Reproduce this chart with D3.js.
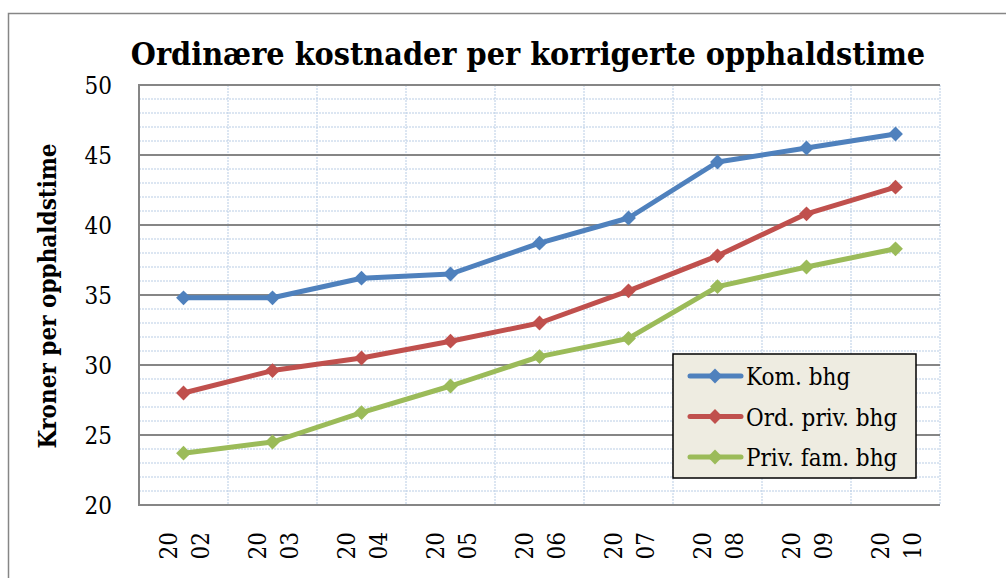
<html lang="en">
<head>
<meta charset="utf-8">
<title>Ordinære kostnader</title>
<style>
    body { margin: 0; background: white; }
    svg { background: white; }
    text { font-family: "DejaVu Serif Condensed", "DejaVu Serif", serif; font-stretch: condensed; fill: #000; }
    .minor { stroke: #b9cde5; stroke-width: 1; stroke-dasharray: 2,1; }
    .major { stroke: #868686; stroke-width: 2; }
</style>
</head>
<body>
<div id="chart"></div>
<script src="https://d3js.org/d3.v7.min.js"></script>
<script>
var years = ["2002", "2003", "2004", "2005", "2006", "2007", "2008", "2009", "2010"];
var yTicks = [20, 25, 30, 35, 40, 45, 50];
var seriesNames = ["Kom. bhg", "Ord. priv. bhg", "Priv. fam. bhg"];
var seriesColors = ["#4f81bd", "#c0504d", "#9bbb59"];
var kom = [34.8, 34.8, 36.2, 36.5, 38.7, 40.5, 44.5, 45.5, 46.5];
var ordPriv = [28.0, 29.6, 30.5, 31.7, 33.0, 35.3, 37.8, 40.8, 42.7];
var privFam = [23.7, 24.5, 26.6, 28.5, 30.6, 31.9, 35.6, 37.0, 38.3];
var allSeries = [kom, ordPriv, privFam];

var W = 1006, H = 578;
var plot = {left: 139, right: 940, top: 85, bottom: 505};

var svg = d3.select("#chart").append("svg")
    .attr("width", W).attr("height", H);

// outer chart border
svg.append("rect")
    .attr("x", 8.5).attr("y", 13.5)
    .attr("width", 1100).attr("height", 700)
    .style("fill", "none").style("stroke", "#868686").style("stroke-width", 1.5);

var x = d3.scaleBand().domain(years).range([plot.left, plot.right]);
var y = d3.scaleLinear().domain([20, 50]).range([plot.bottom, plot.top]);

// minor horizontal gridlines
var minorVals = d3.range(21, 50).filter(function(v) { return v % 5 != 0; });
svg.selectAll(".hminor")
    .data(minorVals)
    .enter().append("line")
    .attr("class", "minor")
    .attr("x1", plot.left).attr("x2", plot.right)
    .attr("y1", function(d) { return y(d); })
    .attr("y2", function(d) { return y(d); });

// vertical gridlines at category boundaries
svg.selectAll(".vminor")
    .data(years)
    .enter().append("line")
    .attr("class", "minor")
    .attr("x1", function(d) { return x(d) + x.bandwidth(); })
    .attr("x2", function(d) { return x(d) + x.bandwidth(); })
    .attr("y1", plot.top).attr("y2", plot.bottom);

// major gridlines
svg.selectAll(".hmajor")
    .data(yTicks)
    .enter().append("line")
    .attr("class", "major")
    .attr("x1", plot.left).attr("x2", plot.right)
    .attr("y1", function(d) { return y(d); })
    .attr("y2", function(d) { return y(d); });

// y axis line
svg.append("line").attr("class", "major")
    .attr("x1", plot.left).attr("x2", plot.left)
    .attr("y1", plot.top - 1).attr("y2", plot.bottom + 1);

// y tick labels
svg.selectAll(".ylab")
    .data(yTicks)
    .enter().append("text")
    .attr("x", 112)
    .attr("y", function(d) { return y(d) + 9; })
    .style("text-anchor", "end")
    .style("font-size", "24px")
    .text(function(d) { return d; });

// x tick labels, wrapped in two rotated lines
var xl = svg.selectAll(".xlab")
    .data(years)
    .enter().append("g")
    .attr("transform", function(d) {
        return "translate(" + (x(d) + x.bandwidth() / 2) + ",532) rotate(-90)";
    });
xl.append("text")
    .attr("x", 0).attr("y", -7)
    .style("text-anchor", "end")
    .style("font-size", "24px")
    .text(function(d) { return d.slice(0, 2); });
xl.append("text")
    .attr("x", 0).attr("y", 25)
    .style("text-anchor", "end")
    .style("font-size", "24px")
    .text(function(d) { return d.slice(2); });

// y axis title
svg.append("text")
    .attr("transform", "translate(56," + ((plot.top + plot.bottom) / 2 + 1) + ") rotate(-90)")
    .style("text-anchor", "middle")
    .style("font-size", "24px")
    .style("font-weight", "bold")
    .text("Kroner per opphaldstime");

// chart title
svg.append("text")
    .attr("x", 528).attr("y", 65)
    .style("text-anchor", "middle")
    .style("font-size", "32px")
    .style("font-weight", "bold")
    .text("Ordinære kostnader per korrigerte opphaldstime");

var line = d3.line()
    .x(function(d, i) { return x(years[i]) + x.bandwidth() / 2; })
    .y(function(d) { return y(d); });

// square rotated 45 degrees gives Excel's diamond marker
var diamond = d3.symbol().type(d3.symbolSquare).size(110);

allSeries.forEach(function(vals, s) {
    svg.append("path")
        .datum(vals)
        .attr("d", line)
        .style("fill", "none")
        .style("stroke", seriesColors[s])
        .style("stroke-width", 5)
        .style("stroke-linejoin", "round");
    svg.selectAll(".pt" + s)
        .data(vals)
        .enter().append("path")
        .attr("d", diamond)
        .attr("transform", function(d, i) {
            return "translate(" + (x(years[i]) + x.bandwidth() / 2) + "," + y(d) + ") rotate(45)";
        })
        .style("fill", seriesColors[s]);
});

// legend
var lg = svg.append("g");
lg.append("rect")
    .attr("x", 673).attr("y", 354)
    .attr("width", 243).attr("height", 124)
    .style("fill", "#eeece1")
    .style("stroke", "#000")
    .style("stroke-width", 1.5);
seriesNames.forEach(function(name, s) {
    var ly = 376 + s * 40.5;
    lg.append("line")
        .attr("x1", 690).attr("x2", 741)
        .attr("y1", ly).attr("y2", ly)
        .style("stroke", seriesColors[s])
        .style("stroke-width", 5)
        .style("stroke-linecap", "round");
    lg.append("path")
        .attr("d", diamond)
        .attr("transform", "translate(715," + ly + ") rotate(45)")
        .style("fill", seriesColors[s]);
    lg.append("text")
        .attr("x", 746).attr("y", ly + 9)
        .style("font-size", "24px")
        .text(name);
});
</script>
</body>
</html>
